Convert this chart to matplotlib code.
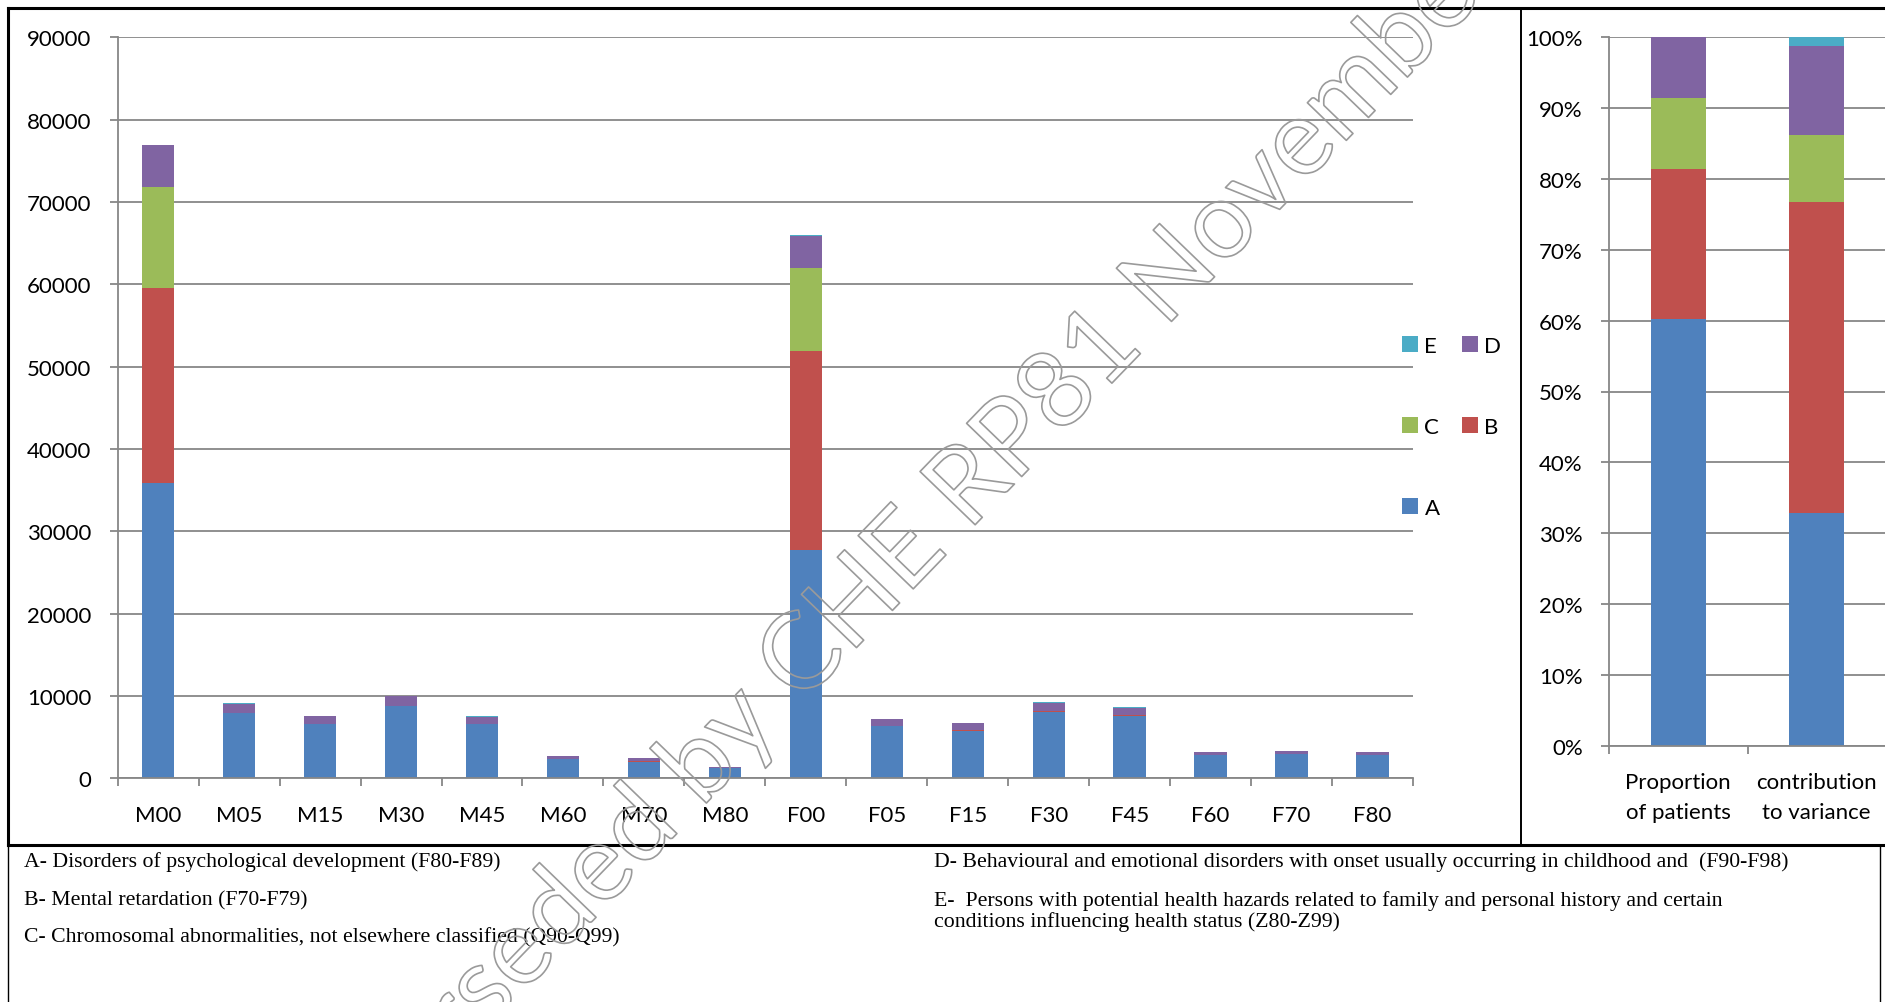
import matplotlib
matplotlib.use("Agg")
import matplotlib.pyplot as plt
import matplotlib.patheffects as pe
from matplotlib.lines import Line2D
import numpy as np

plt.rcParams["font.family"] = ["Lato", "DejaVu Sans"]

# figure size in pixels (dpi 100)
W, H = 1885, 1003

# main chart: patients per age/sex group, stacked by diagnosis group
groups = ["M00", "M05", "M15", "M30", "M45", "M60", "M70", "M80",
          "F00", "F05", "F15", "F30", "F45", "F60", "F70", "F80"]
cat_a = [35900, 7950, 6600, 8800, 6550, 2300, 2000, 1200,
         27700, 6300, 5800, 8100, 7600, 2800, 2900, 2800]
cat_b = [23600, 30, 30, 30, 30, 30, 100, 30,
         24200, 30, 30, 30, 30, 30, 30, 30]
cat_c = [12300, 0, 0, 0, 0, 0, 20, 0,
         10100, 0, 0, 0, 0, 0, 0, 0]
cat_d = [5100, 1080, 920, 1170, 920, 340, 290, 160,
         3900, 840, 840, 1060, 960, 350, 400, 350]
cat_e = [40, 30, 20, 20, 20, 10, 10, 10,
         40, 20, 20, 20, 20, 10, 10, 10]

# right chart: shares in percent
share_labels = ["Proportion\nof patients", "contribution\nto variance"]
share_a = [60.2, 32.9]
share_b = [21.2, 43.9]
share_c = [10.0, 9.4]
share_d = [8.6, 12.6]
share_e = [0.0, 1.2]

series_names = ["A", "B", "C", "D", "E"]
colors = ["#4F81BD", "#C0504D", "#9BBB59", "#8064A2", "#4BACC6"]

footnotes_left = [
    "A- Disorders of psychological development (F80-F89)",
    "B- Mental retardation (F70-F79)",
    "C- Chromosomal abnormalities, not elsewhere classified (Q90-Q99)",
]
footnotes_right = [
    "D- Behavioural and emotional disorders with onset usually occurring in childhood and  (F90-F98)",
    "E-  Persons with potential health hazards related to family and personal history and certain",
    "conditions influencing health status (Z80-Z99)",
]

grid_col = "#878787"


def fx(x):
    return x / W


def fy(y):
    return 1 - y / H


fig = plt.figure(figsize=(W / 100, H / 100), dpi=100)
fig.patch.set_facecolor("white")


def style_axes(ax, ncat):
    ax.set_axisbelow(True)
    ax.yaxis.grid(True, color=grid_col, linewidth=1.3)
    for side in ["top", "right"]:
        ax.spines[side].set_visible(False)
    for side in ["left", "bottom"]:
        ax.spines[side].set_color(grid_col)
        ax.spines[side].set_linewidth(1.3)
    ax.set_xlim(-0.5, ncat - 0.5)
    ax.set_xticks(np.arange(-0.5, ncat, 1), minor=True)
    ax.tick_params(axis="x", which="major", length=0, pad=19, labelsize=16)
    ax.tick_params(axis="x", which="minor", length=5.8, width=1.3, color=grid_col)
    ax.tick_params(axis="y", length=5.8, width=1.3, color=grid_col, pad=13, labelsize=16)


# main chart
ax = fig.add_axes([fx(117.7), fy(779.3), fx(1413) - fx(117.7), fy(38.3) - fy(779.3)])
x = np.arange(len(groups))
bottom = np.zeros(len(groups))
bars = {}
for name, vals, col in zip(series_names, [cat_a, cat_b, cat_c, cat_d, cat_e], colors):
    bars[name] = ax.bar(x, vals, 0.4, bottom=bottom, color=col, label=name)
    bottom = bottom + np.array(vals)
ax.set_ylim(0, 90000)
ax.set_yticks(range(0, 90001, 10000))
ax.set_xticks(x)
ax.set_xticklabels(groups)
style_axes(ax, len(groups))

# legend: rows E D / C B / A
order = ["E", "C", "A", "D", "B"]
fig.legend([bars[n] for n in order], order, loc="center left",
           bbox_to_anchor=(fx(1402), fy(428)), ncol=2, frameon=False,
           fontsize=16, borderpad=0, borderaxespad=0, labelspacing=2.75,
           handlelength=0.71, handleheight=0.71, handletextpad=0.3,
           columnspacing=1.0)

# right chart
ax2 = fig.add_axes([fx(1609), fy(746.7), fx(1886) - fx(1609), fy(38.3) - fy(746.7)])
x2 = np.arange(len(share_labels))
bottom = np.zeros(len(share_labels))
for name, vals, col in zip(series_names, [share_a, share_b, share_c, share_d, share_e], colors):
    ax2.bar(x2, vals, 0.4, bottom=bottom, color=col)
    bottom = bottom + np.array(vals)
ax2.set_ylim(0, 100)
ax2.set_yticks(range(0, 101, 10))
ax2.set_yticklabels([f"{v}%" for v in range(0, 101, 10)])
ax2.set_xticks(x2)
ax2.set_xticklabels(share_labels, linespacing=1.6, fontsize=16.5)
style_axes(ax2, len(share_labels))

# frame lines
frame = [
    ([8, 1885], [9, 9], 2.2),
    ([8, 1885], [846, 846], 2.2),
    ([8, 8], [9, 846], 2.2),
    ([8, 8], [846, 1003], 1.0),
    ([1521, 1521], [9, 846], 1.4),
    ([1880, 1880], [846, 1003], 1.0),
]
for xs, ys, lw in frame:
    fig.add_artist(Line2D([fx(v) for v in xs], [fy(v) for v in ys],
                          transform=fig.transFigure, color="black", linewidth=lw))

# footnotes
serif = ["Liberation Serif", "DejaVu Serif"]
for txt, yy in zip(footnotes_left, [862, 901, 938]):
    fig.text(fx(24), fy(yy), txt, va="center", ha="left", fontsize=15.7, family=serif)
for txt, yy in zip(footnotes_right, [862, 901, 922]):
    fig.text(fx(934), fy(yy), txt, va="center", ha="left", fontsize=15.7, family=serif)

# watermark
fig.text(fx(883), fy(578), "Superseded by CHE RP81 November", rotation=46,
         rotation_mode="anchor", ha="center", va="center", fontsize=77,
         color=(1, 1, 1, 0), zorder=20,
         path_effects=[pe.Stroke(linewidth=1.2, foreground="#9a9a9a")])

fig.savefig("out.png", dpi=100)
